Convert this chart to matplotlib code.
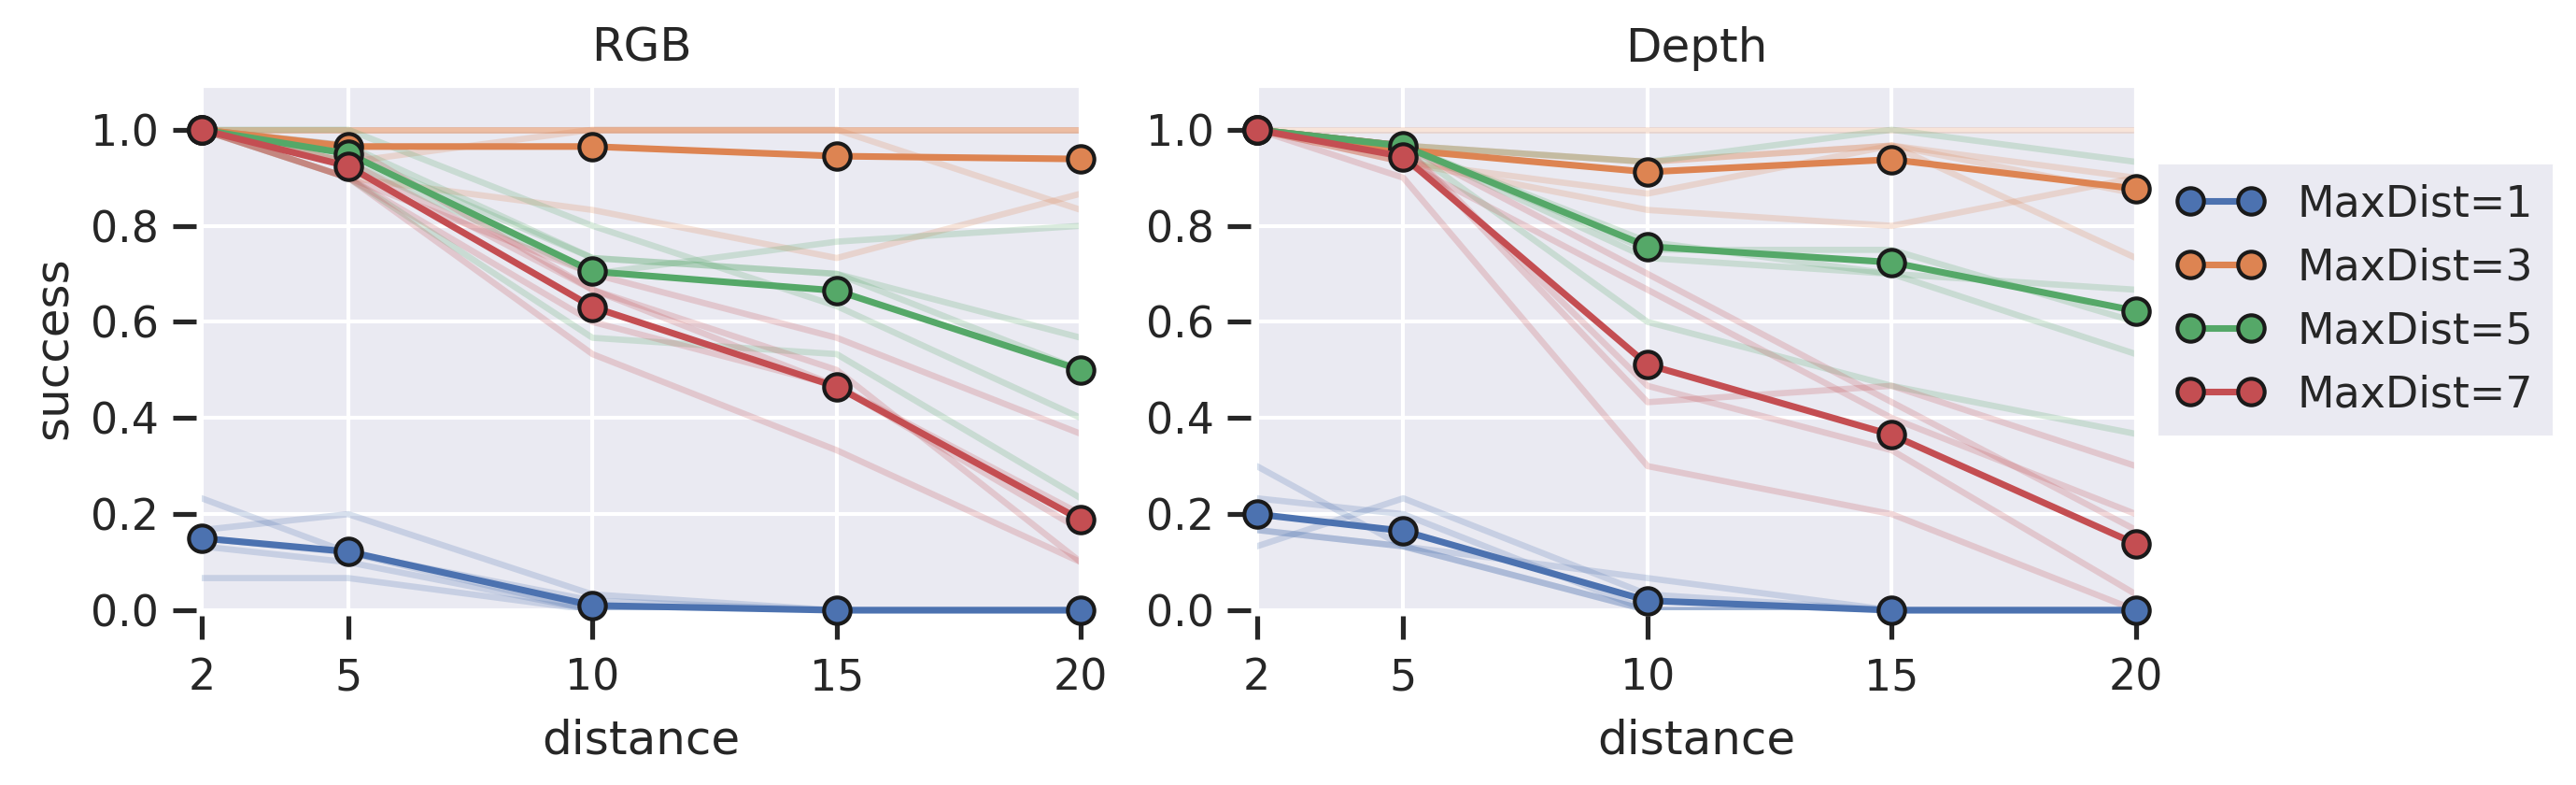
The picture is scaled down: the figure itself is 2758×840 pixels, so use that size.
import numpy as np
import matplotlib
matplotlib.use("Agg")
import matplotlib.pyplot as plt
import seaborn as sns

distance = [2, 5, 10, 15, 20]
max_dists = [1, 3, 5, 7]
panels = ["RGB", "Depth"]

# mean success per MaxDist (markers)
rgb_mean = {
    1: [0.150, 0.122, 0.010, 0.0, 0.0],
    3: [1.0, 0.965, 0.965, 0.945, 0.939],
    5: [1.0, 0.950, 0.705, 0.665, 0.500],
    7: [1.0, 0.924, 0.631, 0.465, 0.188],
}
depth_mean = {
    1: [0.200, 0.165, 0.020, 0.0, 0.0],
    3: [1.0, 0.958, 0.912, 0.938, 0.877],
    5: [1.0, 0.966, 0.757, 0.724, 0.623],
    7: [1.0, 0.944, 0.511, 0.365, 0.138],
}

# individual seeds (faint lines)
rgb_seeds = {
    1: [[0.233, 0.120, 0.020, 0.0, 0.0],
        [0.167, 0.200, 0.033, 0.0, 0.0],
        [0.067, 0.067, 0.000, 0.0, 0.0],
        [0.133, 0.100, 0.000, 0.0, 0.0],
        [0.150, 0.120, 0.000, 0.0, 0.0]],
    3: [[1.0, 1.0, 1.0, 1.0, 1.0],
        [1.0, 1.0, 1.0, 1.0, 1.0],
        [1.0, 1.0, 1.0, 1.0, 1.0],
        [1.0, 0.933, 1.0, 1.0, 0.833],
        [1.0, 0.900, 0.833, 0.733, 0.867]],
    5: [[1.0, 0.967, 0.733, 0.700, 0.567],
        [1.0, 0.900, 0.567, 0.533, 0.233],
        [1.0, 0.933, 0.700, 0.767, 0.800],
        [1.0, 1.000, 0.800, 0.633, 0.400],
        [1.0, 0.950, 0.733, 0.700, 0.500]],
    7: [[1.0, 0.900, 0.700, 0.567, 0.367],
        [1.0, 0.967, 0.667, 0.500, 0.100],
        [1.0, 0.900, 0.533, 0.333, 0.100],
        [1.0, 0.900, 0.600, 0.467, 0.200],
        [1.0, 0.933, 0.667, 0.467, 0.167]],
}
depth_seeds = {
    1: [[0.300, 0.133, 0.067, 0.0, 0.0],
        [0.233, 0.200, 0.000, 0.0, 0.0],
        [0.133, 0.233, 0.033, 0.0, 0.0],
        [0.167, 0.133, 0.000, 0.0, 0.0],
        [0.167, 0.133, 0.000, 0.0, 0.0]],
    3: [[1.0, 1.000, 1.000, 1.000, 1.000],
        [1.0, 0.967, 0.933, 0.967, 0.900],
        [1.0, 0.933, 0.867, 0.967, 0.733],
        [1.0, 0.933, 0.833, 0.800, 0.900],
        [1.0, 0.967, 0.933, 0.967, 0.867]],
    5: [[1.0, 0.967, 0.933, 1.000, 0.933],
        [1.0, 0.967, 0.733, 0.700, 0.667],
        [1.0, 0.967, 0.600, 0.467, 0.367],
        [1.0, 0.967, 0.767, 0.700, 0.533],
        [1.0, 0.967, 0.750, 0.750, 0.600]],
    7: [[1.0, 0.900, 0.300, 0.200, 0.000],
        [1.0, 0.967, 0.433, 0.467, 0.300],
        [1.0, 0.933, 0.667, 0.400, 0.200],
        [1.0, 0.967, 0.700, 0.433, 0.167],
        [1.0, 0.967, 0.467, 0.333, 0.033]],
}

sns.set_theme(style="darkgrid", context="notebook")
plt.rcParams["xtick.bottom"] = True
plt.rcParams["ytick.left"] = True
plt.rcParams["font.family"] = ["DejaVu Sans"]

colors = sns.color_palette("deep")
fig, axes = plt.subplots(1, 2, figsize=(2758 / 300, 840 / 300), dpi=300)
fig.subplots_adjust(left=0.0783, right=0.8292, bottom=0.2226, top=0.8917, wspace=0.2)

for ax, name, means, seeds in zip(axes, panels, [rgb_mean, depth_mean], [rgb_seeds, depth_seeds]):
    for i, md in enumerate(max_dists):
        for s in seeds[md]:
            ax.plot(distance, s, color=colors[i], alpha=0.22, lw=1.6, zorder=1)
    for i, md in enumerate(max_dists):
        ax.plot(distance, means[md], color=colors[i], lw=1.7, marker="o", ms=6.8,
                mec="#1a1a1a", mew=1.0, zorder=3, label="MaxDist=%d" % md, clip_on=False)
    ax.set_xlim(2, 20)
    ax.set_ylim(0, 1.093)
    ax.set_xticks(distance)
    ax.set_yticks([0, 0.2, 0.4, 0.6, 0.8, 1.0])
    ax.set_title(name)
    ax.set_xlabel("distance", labelpad=5)
    ax.tick_params(length=6, width=1.25, color="#262626")
    ax.tick_params(axis="x", pad=4.5)
    # ticks sit a bit away from the grey patch
    for side in ["left", "bottom"]:
        ax.spines[side].set_position(("outward", 1.5))
        ax.spines[side].set_visible(False)

axes[0].set_ylabel("success")
leg = axes[1].legend(loc="upper left", bbox_to_anchor=(1.028, 0.845), borderaxespad=0,
                     numpoints=2, frameon=True, fancybox=False, framealpha=1)
leg.get_frame().set_facecolor("#EAEAF2")
leg.get_frame().set_edgecolor("#EAEAF2")

fig.savefig("out.png", dpi=300)
